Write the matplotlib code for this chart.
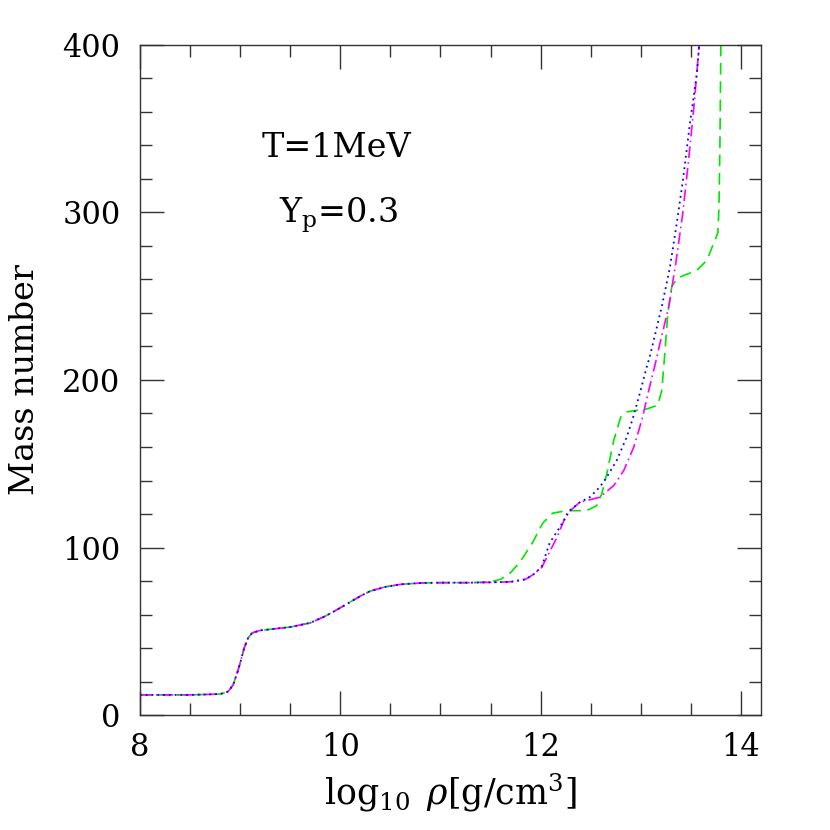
import matplotlib
matplotlib.use("Agg")
import matplotlib.pyplot as plt
from matplotlib.ticker import MultipleLocator
import numpy as np

plt.rcParams['font.family'] = ['DejaVu Serif']
plt.rcParams['mathtext.fontset'] = 'dejavuserif'

# shared low-density part (all three models agree here)
rho_low = [8.0, 8.5, 8.8, 8.88, 8.93, 8.97, 9.0, 9.04, 9.08, 9.12, 9.2, 9.35,
           9.5, 9.7, 9.85, 10.0, 10.1, 10.2, 10.3, 10.45, 10.6, 10.8, 11.0, 11.3]
A_low = [12, 12, 12.5, 14, 18, 25, 31, 40, 46, 49, 50.5, 51.5,
         52.5, 55, 59, 64, 67.5, 71, 74, 76.5, 78, 78.8, 79, 79]

# green dashed
rho_green = [11.5, 11.6, 11.7, 11.79, 11.92, 12.02, 12.12, 12.26, 12.46, 12.56,
             12.61, 12.66, 12.73, 12.80, 12.86, 13.06, 13.17, 13.21, 13.24, 13.27,
             13.31, 13.37, 13.56, 13.66, 13.74, 13.77, 13.78, 13.79, 13.80]
A_green = [79.5, 81, 85, 91, 103, 114.5, 120.5, 122, 122, 125,
           132, 144, 164, 178, 181, 182.7, 185, 194, 216, 240,
           256, 261, 265.5, 271.5, 283.5, 288, 303, 340, 405]

# blue dotted
rho_blue = [11.5, 11.7, 11.85, 11.93, 12.01, 12.09, 12.19, 12.29, 12.39, 12.49,
            12.59, 12.66, 12.76, 12.86, 12.92, 12.99, 13.06, 13.09, 13.21, 13.29,
            13.36, 13.42, 13.49, 13.56, 13.59]
A_blue = [79.2, 79.5, 81, 84, 88.5, 102.7, 112, 122, 127, 130,
          136, 142, 152, 166, 177, 192, 208, 214, 244, 267,
          294, 319, 353, 383, 405]

# magenta dash-dot
rho_mag = [11.5, 11.7, 11.85, 11.93, 12.01, 12.16, 12.26, 12.39, 12.59, 12.73,
           12.83, 12.93, 13.01, 13.08, 13.15, 13.18, 13.28, 13.35, 13.42, 13.48,
           13.53, 13.59]
A_mag = [79.2, 79.5, 81, 84, 88, 105.7, 120, 127, 130, 137,
         146, 160, 176, 194, 211, 219, 244, 270, 300, 333,
         363, 405]

fig = plt.figure(figsize=(8.3, 8.3), dpi=100)
ax = fig.add_axes([140/830, 115/830, 621/830, 670/830])

ax.plot(rho_low + rho_green, A_low + A_green, color='#00e600', lw=1.2,
        dashes=(7, 4))
ax.plot(rho_low + rho_mag, A_low + A_mag, color='#ff00ff', lw=1.2,
        dashes=(7, 2.5, 1, 2.5))
ax.plot(rho_low + rho_blue, A_low + A_blue, color='#0000ff', lw=1.3,
        dashes=(1, 2.2))

ax.set_xlim(8, 14.2)
ax.set_ylim(0, 400)
ax.xaxis.set_major_locator(MultipleLocator(2))
ax.xaxis.set_minor_locator(MultipleLocator(0.5))
ax.yaxis.set_major_locator(MultipleLocator(100))
ax.yaxis.set_minor_locator(MultipleLocator(20))
ax.tick_params(which='both', direction='in', top=True, right=True,
               width=1.0, color='#333333', labelsize=22)
ax.tick_params(which='major', length=17, pad=14)
ax.tick_params(which='minor', length=8.6)
ax.tick_params(axis='x', which='major', pad=12)
for s in ax.spines.values():
    s.set_linewidth(1.0)
    s.set_color('#333333')

ax.set_xlabel(r'$\log_{10}\ \rho[\mathrm{g/cm}^3]$', fontsize=25)
ax.set_ylabel('Mass number', fontsize=24)
ax.xaxis.set_label_coords(0.5, -0.085)
ax.yaxis.set_label_coords(-0.16, 0.5)

ax.text(9.21, 333, 'T=1MeV', fontsize=24)
ax.text(9.39, 294, r'Y$_\mathrm{p}$=0.3', fontsize=24)

fig.savefig('out.png', dpi=100)
